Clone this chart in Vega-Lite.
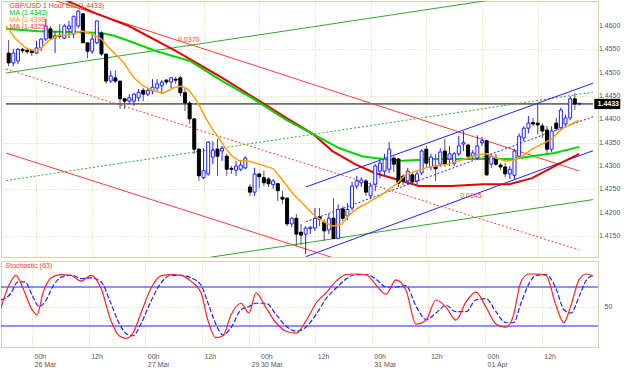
{
  "$schema": "https://vega.github.io/schema/vega-lite/v6.json",
  "padding": 0,
  "background": "white",
  "spacing": 2,
  "config": {
    "view": {"stroke": "#d8d0b0"},
    "font": "Liberation Sans",
    "axis": {"labelFont": "Liberation Sans", "labelFontSize": 7, "labelColor": "#555555", "ticks": false, "domain": false, "gridColor": "#d9cf9c", "gridDash": [1, 2], "title": null, "labelOverlap": false}
  },
  "datasets": {
    "candles": [
      {"k":-6,"o":1.4542,"h":1.4570,"l":1.4514,"c":1.4521},
      {"k":-5,"o":1.4521,"h":1.4551,"l":1.4514,"c":1.4542},
      {"k":-4,"o":1.4525,"h":1.4553,"l":1.4518,"c":1.4550},
      {"k":-3,"o":1.4550,"h":1.4553,"l":1.4542,"c":1.4547},
      {"k":-2,"o":1.4548,"h":1.4553,"l":1.4540,"c":1.4545},
      {"k":-1,"o":1.4547,"h":1.4551,"l":1.4536,"c":1.4543},
      {"k":0,"o":1.4542,"h":1.4568,"l":1.4540,"c":1.4553},
      {"k":1,"o":1.4553,"h":1.4574,"l":1.4546,"c":1.4572},
      {"k":2,"o":1.4572,"h":1.4615,"l":1.4568,"c":1.4600},
      {"k":3,"o":1.4594,"h":1.4600,"l":1.4572,"c":1.4574},
      {"k":4,"o":1.4575,"h":1.4589,"l":1.4542,"c":1.4579},
      {"k":5,"o":1.4580,"h":1.4604,"l":1.4572,"c":1.4578},
      {"k":6,"o":1.4574,"h":1.4604,"l":1.4572,"c":1.4600},
      {"k":7,"o":1.4594,"h":1.4611,"l":1.4574,"c":1.4600},
      {"k":8,"o":1.4583,"h":1.4621,"l":1.4574,"c":1.4621},
      {"k":9,"o":1.4600,"h":1.4634,"l":1.4596,"c":1.4632},
      {"k":10,"o":1.4626,"h":1.4628,"l":1.4564,"c":1.4564},
      {"k":11,"o":1.4564,"h":1.4564,"l":1.4531,"c":1.4546},
      {"k":12,"o":1.4546,"h":1.4583,"l":1.4540,"c":1.4572},
      {"k":13,"o":1.4564,"h":1.4611,"l":1.4561,"c":1.4611},
      {"k":14,"o":1.4585,"h":1.4589,"l":1.4536,"c":1.4540},
      {"k":15,"o":1.4540,"h":1.4540,"l":1.4476,"c":1.4482},
      {"k":16,"o":1.4482,"h":1.4504,"l":1.4478,"c":1.4493},
      {"k":17,"o":1.4489,"h":1.4504,"l":1.4478,"c":1.4482},
      {"k":18,"o":1.4482,"h":1.4482,"l":1.4422,"c":1.4444},
      {"k":19,"o":1.4444,"h":1.4446,"l":1.4422,"c":1.4439},
      {"k":20,"o":1.4439,"h":1.4454,"l":1.4433,"c":1.4446},
      {"k":21,"o":1.4439,"h":1.4457,"l":1.4429,"c":1.4454},
      {"k":22,"o":1.4446,"h":1.4465,"l":1.4439,"c":1.4458},
      {"k":23,"o":1.4462,"h":1.4467,"l":1.4439,"c":1.4454},
      {"k":24,"o":1.4454,"h":1.4467,"l":1.4450,"c":1.4462},
      {"k":25,"o":1.4461,"h":1.4486,"l":1.4454,"c":1.4469},
      {"k":26,"o":1.4467,"h":1.4486,"l":1.4461,"c":1.4476},
      {"k":27,"o":1.4472,"h":1.4484,"l":1.4454,"c":1.4480},
      {"k":28,"o":1.4484,"h":1.4486,"l":1.4474,"c":1.4480},
      {"k":29,"o":1.4480,"h":1.4491,"l":1.4467,"c":1.4489},
      {"k":30,"o":1.4486,"h":1.4491,"l":1.4476,"c":1.4484},
      {"k":31,"o":1.4489,"h":1.4493,"l":1.4450,"c":1.4457},
      {"k":32,"o":1.4457,"h":1.4467,"l":1.4418,"c":1.4435},
      {"k":33,"o":1.4435,"h":1.4439,"l":1.4390,"c":1.4401},
      {"k":34,"o":1.4401,"h":1.4403,"l":1.4326,"c":1.4336},
      {"k":35,"o":1.4336,"h":1.4338,"l":1.4268,"c":1.4279},
      {"k":36,"o":1.4275,"h":1.4338,"l":1.4272,"c":1.4290},
      {"k":37,"o":1.4283,"h":1.4353,"l":1.4279,"c":1.4351},
      {"k":38,"o":1.4319,"h":1.4353,"l":1.4304,"c":1.4334},
      {"k":39,"o":1.4336,"h":1.4358,"l":1.4279,"c":1.4321},
      {"k":40,"o":1.4332,"h":1.4343,"l":1.4311,"c":1.4338},
      {"k":41,"o":1.4321,"h":1.4326,"l":1.4279,"c":1.4293},
      {"k":42,"o":1.4295,"h":1.4300,"l":1.4283,"c":1.4293},
      {"k":43,"o":1.4291,"h":1.4311,"l":1.4279,"c":1.4300},
      {"k":44,"o":1.4293,"h":1.4311,"l":1.4289,"c":1.4302},
      {"k":45,"o":1.4296,"h":1.4321,"l":1.4293,"c":1.4317},
      {"k":46,"o":1.4255,"h":1.4261,"l":1.4236,"c":1.4244},
      {"k":47,"o":1.4244,"h":1.4296,"l":1.4236,"c":1.4283},
      {"k":48,"o":1.4283,"h":1.4285,"l":1.4253,"c":1.4277},
      {"k":49,"o":1.4275,"h":1.4290,"l":1.4257,"c":1.4264},
      {"k":50,"o":1.4272,"h":1.4276,"l":1.4255,"c":1.4262},
      {"k":51,"o":1.4260,"h":1.4272,"l":1.4251,"c":1.4268},
      {"k":52,"o":1.4262,"h":1.4264,"l":1.4225,"c":1.4247},
      {"k":53,"o":1.4233,"h":1.4247,"l":1.4219,"c":1.4229},
      {"k":54,"o":1.4231,"h":1.4233,"l":1.4171,"c":1.4176},
      {"k":55,"o":1.4176,"h":1.4190,"l":1.4169,"c":1.4188},
      {"k":56,"o":1.4188,"h":1.4197,"l":1.4128,"c":1.4154},
      {"k":57,"o":1.4158,"h":1.4176,"l":1.4131,"c":1.4152},
      {"k":58,"o":1.4154,"h":1.4171,"l":1.4111,"c":1.4167},
      {"k":59,"o":1.4166,"h":1.4171,"l":1.4154,"c":1.4169},
      {"k":60,"o":1.4167,"h":1.4210,"l":1.4161,"c":1.4188},
      {"k":61,"o":1.4191,"h":1.4210,"l":1.4171,"c":1.4186},
      {"k":62,"o":1.4180,"h":1.4186,"l":1.4139,"c":1.4161},
      {"k":63,"o":1.4163,"h":1.4197,"l":1.4154,"c":1.4188},
      {"k":64,"o":1.4188,"h":1.4231,"l":1.4143,"c":1.4145},
      {"k":65,"o":1.4145,"h":1.4218,"l":1.4143,"c":1.4207},
      {"k":66,"o":1.4208,"h":1.4214,"l":1.4182,"c":1.4188},
      {"k":67,"o":1.4193,"h":1.4220,"l":1.4184,"c":1.4207},
      {"k":68,"o":1.4210,"h":1.4266,"l":1.4203,"c":1.4257},
      {"k":69,"o":1.4257,"h":1.4279,"l":1.4251,"c":1.4268},
      {"k":70,"o":1.4264,"h":1.4276,"l":1.4255,"c":1.4270},
      {"k":71,"o":1.4268,"h":1.4272,"l":1.4236,"c":1.4244},
      {"k":72,"o":1.4236,"h":1.4264,"l":1.4229,"c":1.4257},
      {"k":73,"o":1.4261,"h":1.4304,"l":1.4246,"c":1.4300},
      {"k":74,"o":1.4289,"h":1.4315,"l":1.4274,"c":1.4306},
      {"k":75,"o":1.4289,"h":1.4326,"l":1.4281,"c":1.4315},
      {"k":76,"o":1.4293,"h":1.4351,"l":1.4285,"c":1.4336},
      {"k":77,"o":1.4317,"h":1.4321,"l":1.4287,"c":1.4304},
      {"k":78,"o":1.4315,"h":1.4317,"l":1.4255,"c":1.4263},
      {"k":79,"o":1.4278,"h":1.4283,"l":1.4259,"c":1.4268},
      {"k":80,"o":1.4268,"h":1.4296,"l":1.4261,"c":1.4289},
      {"k":81,"o":1.4281,"h":1.4285,"l":1.4259,"c":1.4266},
      {"k":82,"o":1.4268,"h":1.4289,"l":1.4261,"c":1.4283},
      {"k":83,"o":1.4285,"h":1.4336,"l":1.4281,"c":1.4332},
      {"k":84,"o":1.4336,"h":1.4343,"l":1.4296,"c":1.4306},
      {"k":85,"o":1.4298,"h":1.4326,"l":1.4291,"c":1.4319},
      {"k":86,"o":1.4300,"h":1.4326,"l":1.4268,"c":1.4294},
      {"k":87,"o":1.4304,"h":1.4338,"l":1.4298,"c":1.4330},
      {"k":88,"o":1.4332,"h":1.4358,"l":1.4298,"c":1.4304},
      {"k":89,"o":1.4315,"h":1.4343,"l":1.4300,"c":1.4326},
      {"k":90,"o":1.4306,"h":1.4330,"l":1.4300,"c":1.4326},
      {"k":91,"o":1.4326,"h":1.4364,"l":1.4321,"c":1.4343},
      {"k":92,"o":1.4347,"h":1.4375,"l":1.4332,"c":1.4350},
      {"k":93,"o":1.4345,"h":1.4347,"l":1.4313,"c":1.4321},
      {"k":94,"o":1.4321,"h":1.4334,"l":1.4315,"c":1.4328},
      {"k":95,"o":1.4317,"h":1.4366,"l":1.4313,"c":1.4343},
      {"k":96,"o":1.4350,"h":1.4362,"l":1.4343,"c":1.4354},
      {"k":97,"o":1.4354,"h":1.4356,"l":1.4279,"c":1.4281},
      {"k":98,"o":1.4304,"h":1.4326,"l":1.4296,"c":1.4321},
      {"k":99,"o":1.4317,"h":1.4326,"l":1.4300,"c":1.4304},
      {"k":100,"o":1.4302,"h":1.4306,"l":1.4291,"c":1.4298},
      {"k":101,"o":1.4298,"h":1.4306,"l":1.4276,"c":1.4283},
      {"k":102,"o":1.4283,"h":1.4300,"l":1.4272,"c":1.4293},
      {"k":103,"o":1.4280,"h":1.4336,"l":1.4272,"c":1.4332},
      {"k":104,"o":1.4321,"h":1.4370,"l":1.4316,"c":1.4364},
      {"k":105,"o":1.4360,"h":1.4385,"l":1.4353,"c":1.4381},
      {"k":106,"o":1.4381,"h":1.4407,"l":1.4370,"c":1.4392},
      {"k":107,"o":1.4393,"h":1.4403,"l":1.4386,"c":1.4390},
      {"k":108,"o":1.4392,"h":1.4433,"l":1.4368,"c":1.4388},
      {"k":109,"o":1.4386,"h":1.4392,"l":1.4360,"c":1.4375},
      {"k":110,"o":1.4377,"h":1.4386,"l":1.4326,"c":1.4336},
      {"k":111,"o":1.4336,"h":1.4385,"l":1.4330,"c":1.4375},
      {"k":112,"o":1.4392,"h":1.4403,"l":1.4375,"c":1.4380},
      {"k":113,"o":1.4382,"h":1.4425,"l":1.4375,"c":1.4420},
      {"k":114,"o":1.4390,"h":1.4410,"l":1.4386,"c":1.4403},
      {"k":115,"o":1.4403,"h":1.4450,"l":1.4398,"c":1.4444},
      {"k":116,"o":1.4444,"h":1.4456,"l":1.4420,"c":1.4433},
      {"k":117,"o":1.4433,"h":1.4436,"l":1.4430,"c":1.4434}
    ],
    "ma": [
      {"s":"fast","k":-6.57,"p":1.4600},{"s":"fast","k":-4.45,"p":1.4572},{"s":"fast","k":-2.33,"p":1.4553},{"s":"fast","k":-0.21,"p":1.4546},{"s":"fast","k":0.85,"p":1.4551},{"s":"fast","k":2.54,"p":1.4568},{"s":"fast","k":4.66,"p":1.4579},{"s":"fast","k":7.63,"p":1.4583},{"s":"fast","k":9.75,"p":1.4589},{"s":"fast","k":11.86,"p":1.4583},{"s":"fast","k":13.98,"p":1.4572},{"s":"fast","k":15.25,"p":1.4557},{"s":"fast","k":17.37,"p":1.4536},{"s":"fast","k":18.86,"p":1.4521},{"s":"fast","k":20.97,"p":1.4489},{"s":"fast","k":23.09,"p":1.4471},{"s":"fast","k":25.21,"p":1.4461},{"s":"fast","k":27.33,"p":1.4456},{"s":"fast","k":29.45,"p":1.4467},{"s":"fast","k":31.14,"p":1.4471},{"s":"fast","k":32.63,"p":1.4465},{"s":"fast","k":34.11,"p":1.4446},{"s":"fast","k":35.17,"p":1.4429},{"s":"fast","k":36.44,"p":1.4403},{"s":"fast","k":37.92,"p":1.4379},{"s":"fast","k":39.41,"p":1.4358},{"s":"fast","k":40.68,"p":1.4339},{"s":"fast","k":42.16,"p":1.4321},{"s":"fast","k":43.64,"p":1.4311},{"s":"fast","k":45.34,"p":1.4311},{"s":"fast","k":48.09,"p":1.4304},{"s":"fast","k":51.06,"p":1.4294},{"s":"fast","k":53.18,"p":1.4268},{"s":"fast","k":55.30,"p":1.4240},{"s":"fast","k":57.42,"p":1.4219},{"s":"fast","k":59.53,"p":1.4197},{"s":"fast","k":61.65,"p":1.4182},{"s":"fast","k":63.77,"p":1.4171},{"s":"fast","k":65.89,"p":1.4176},{"s":"fast","k":67.16,"p":1.4193},{"s":"fast","k":69.28,"p":1.4210},{"s":"fast","k":71.40,"p":1.4221},{"s":"fast","k":74.58,"p":1.4240},{"s":"fast","k":77.54,"p":1.4261},{"s":"fast","k":79.66,"p":1.4283},{"s":"fast","k":81.78,"p":1.4289},{"s":"fast","k":83.90,"p":1.4296},{"s":"fast","k":86.02,"p":1.4300},{"s":"fast","k":88.77,"p":1.4304},{"s":"fast","k":90.89,"p":1.4311},{"s":"fast","k":93.01,"p":1.4317},{"s":"fast","k":95.13,"p":1.4324},{"s":"fast","k":97.25,"p":1.4326},{"s":"fast","k":98.94,"p":1.4317},{"s":"fast","k":101.06,"p":1.4311},{"s":"fast","k":102.97,"p":1.4313},{"s":"fast","k":104.66,"p":1.4321},{"s":"fast","k":106.78,"p":1.4336},{"s":"fast","k":108.90,"p":1.4347},{"s":"fast","k":111.02,"p":1.4358},{"s":"fast","k":113.14,"p":1.4379},{"s":"fast","k":115.25,"p":1.4390},{"s":"fast","k":116.95,"p":1.4398},
      {"s":"mid","k":-6.57,"p":1.4594},{"s":"mid","k":0.42,"p":1.4589},{"s":"mid","k":7.63,"p":1.4587},{"s":"mid","k":13.98,"p":1.4585},{"s":"mid","k":16.74,"p":1.4579},{"s":"mid","k":19.92,"p":1.4568},{"s":"mid","k":25.85,"p":1.4546},{"s":"mid","k":33.05,"p":1.4525},{"s":"mid","k":40.04,"p":1.4482},{"s":"mid","k":46.40,"p":1.4446},{"s":"mid","k":53.81,"p":1.4399},{"s":"mid","k":59.53,"p":1.4369},{"s":"mid","k":65.04,"p":1.4339},{"s":"mid","k":70.13,"p":1.4321},{"s":"mid","k":72.88,"p":1.4317},{"s":"mid","k":78.81,"p":1.4311},{"s":"mid","k":86.02,"p":1.4315},{"s":"mid","k":93.01,"p":1.4315},{"s":"mid","k":97.25,"p":1.4315},{"s":"mid","k":102.54,"p":1.4315},{"s":"mid","k":106.78,"p":1.4321},{"s":"mid","k":111.65,"p":1.4328},{"s":"mid","k":116.95,"p":1.4341},
      {"s":"slow","k":5.08,"p":1.4660},{"s":"slow","k":6.57,"p":1.4654},{"s":"slow","k":12.50,"p":1.4628},{"s":"slow","k":19.92,"p":1.4600},{"s":"slow","k":30.08,"p":1.4546},{"s":"slow","k":40.04,"p":1.4489},{"s":"slow","k":48.09,"p":1.4439},{"s":"slow","k":53.81,"p":1.4403},{"s":"slow","k":59.53,"p":1.4369},{"s":"slow","k":63.77,"p":1.4332},{"s":"slow","k":68.64,"p":1.4304},{"s":"slow","k":72.88,"p":1.4285},{"s":"slow","k":78.81,"p":1.4268},{"s":"slow","k":82.42,"p":1.4257},{"s":"slow","k":89.41,"p":1.4257},{"s":"slow","k":96.19,"p":1.4261},{"s":"slow","k":101.91,"p":1.4261},{"s":"slow","k":106.78,"p":1.4274},{"s":"slow","k":112.50,"p":1.4304},{"s":"slow","k":116.95,"p":1.4326}
    ],
    "trend": [
      {"g":"R","id":"R1","k":-6.57,"p":1.46887},{"g":"R","id":"R1","k":116.95,"p":1.42893},
      {"g":"R","id":"R3","k":-6.57,"p":1.43278},{"g":"R","id":"R3","k":64.4,"p":1.41018},
      {"g":"G","id":"G1","k":-6.57,"p":1.44993},{"g":"G","id":"G1","k":103.6,"p":1.46643},
      {"g":"G","id":"G3","k":37.5,"p":1.41045},{"g":"G","id":"G3","k":119.92,"p":1.42280},
      {"g":"B","id":"B1","k":58.05,"p":1.42550},{"g":"B","id":"B1","k":119.92,"p":1.44774},
      {"g":"B","id":"B3","k":58.05,"p":1.41058},{"g":"B","id":"B3","k":119.92,"p":1.43328}
    ],
    "trendDot": [
      {"g":"R","id":"R2","k":-6.57,"p":1.45078},{"g":"R","id":"R2","k":116.95,"p":1.41200},
      {"g":"G","id":"G2","k":-6.57,"p":1.42689},{"g":"G","id":"G2","k":119.92,"p":1.44583},
      {"g":"B","id":"B2","k":58.05,"p":1.41804},{"g":"B","id":"B2","k":119.92,"p":1.44056}
    ],
    "stoch": [
      {"s":"K","k":-6.57,"v":48},{"s":"K","k":-4.87,"v":83},{"s":"K","k":-3.39,"v":98},{"s":"K","k":-1.91,"v":78},{"s":"K","k":-0.21,"v":48},{"s":"K","k":1.06,"v":37},{"s":"K","k":2.33,"v":71},{"s":"K","k":4.03,"v":94},{"s":"K","k":6.14,"v":99},{"s":"K","k":8.26,"v":98},{"s":"K","k":10.38,"v":89},{"s":"K","k":12.5,"v":98},{"s":"K","k":14.62,"v":78},{"s":"K","k":16.74,"v":28},{"s":"K","k":18.43,"v":5},{"s":"K","k":19.92,"v":1},{"s":"K","k":21.4,"v":9},{"s":"K","k":23.09,"v":40},{"s":"K","k":25.21,"v":78},{"s":"K","k":27.33,"v":97},{"s":"K","k":29.45,"v":99},{"s":"K","k":31.57,"v":98},{"s":"K","k":33.69,"v":89},{"s":"K","k":35.81,"v":71},{"s":"K","k":37.29,"v":28},{"s":"K","k":38.98,"v":2},{"s":"K","k":40.47,"v":5},{"s":"K","k":42.16,"v":37},{"s":"K","k":44.28,"v":55},{"s":"K","k":45.97,"v":40},{"s":"K","k":47.46,"v":71},{"s":"K","k":49.58,"v":48},{"s":"K","k":51.69,"v":25},{"s":"K","k":53.81,"v":12},{"s":"K","k":55.93,"v":9},{"s":"K","k":58.05,"v":28},{"s":"K","k":60.17,"v":55},{"s":"K","k":62.29,"v":71},{"s":"K","k":64.41,"v":89},{"s":"K","k":66.53,"v":99},{"s":"K","k":68.64,"v":100},{"s":"K","k":70.76,"v":99},{"s":"K","k":72.88,"v":83},{"s":"K","k":75.0,"v":69},{"s":"K","k":77.12,"v":91},{"s":"K","k":79.24,"v":75},{"s":"K","k":81.36,"v":23},{"s":"K","k":83.47,"v":29},{"s":"K","k":85.59,"v":60},{"s":"K","k":87.71,"v":49},{"s":"K","k":89.83,"v":29},{"s":"K","k":91.95,"v":57},{"s":"K","k":94.07,"v":72},{"s":"K","k":96.19,"v":49},{"s":"K","k":98.31,"v":23},{"s":"K","k":100.42,"v":18},{"s":"K","k":101.91,"v":34},{"s":"K","k":103.6,"v":88},{"s":"K","k":105.3,"v":100},{"s":"K","k":106.8,"v":100},{"s":"K","k":108.9,"v":98},{"s":"K","k":111.0,"v":52},{"s":"K","k":112.7,"v":25},{"s":"K","k":114.2,"v":52},{"s":"K","k":115.9,"v":91},{"s":"K","k":117.4,"v":100},{"s":"K","k":118.9,"v":97},
      {"s":"D","k":-6.57,"v":60},{"s":"D","k":-4.5,"v":70},{"s":"D","k":-3,"v":88},{"s":"D","k":-1.5,"v":88},{"s":"D","k":0,"v":68},{"s":"D","k":1.5,"v":50},{"s":"D","k":3,"v":60},{"s":"D","k":4.5,"v":82},{"s":"D","k":6.5,"v":96},{"s":"D","k":8.5,"v":98},{"s":"D","k":10.5,"v":93},{"s":"D","k":12.5,"v":94},{"s":"D","k":14.6,"v":88},{"s":"D","k":16.7,"v":55},{"s":"D","k":18.4,"v":25},{"s":"D","k":20,"v":8},{"s":"D","k":21.4,"v":5},{"s":"D","k":23,"v":22},{"s":"D","k":25,"v":55},{"s":"D","k":27,"v":83},{"s":"D","k":29.5,"v":98},{"s":"D","k":31.6,"v":98},{"s":"D","k":33.7,"v":94},{"s":"D","k":35.8,"v":83},{"s":"D","k":37.3,"v":55},{"s":"D","k":39,"v":22},{"s":"D","k":40.5,"v":6},{"s":"D","k":42.2,"v":18},{"s":"D","k":44.3,"v":45},{"s":"D","k":46,"v":50},{"s":"D","k":47.5,"v":55},{"s":"D","k":49.6,"v":55},{"s":"D","k":51.7,"v":38},{"s":"D","k":53.8,"v":20},{"s":"D","k":55.9,"v":12},{"s":"D","k":58,"v":18},{"s":"D","k":60.2,"v":38},{"s":"D","k":62.3,"v":62},{"s":"D","k":64.4,"v":78},{"s":"D","k":66.5,"v":92},{"s":"D","k":68.6,"v":99},{"s":"D","k":70.8,"v":99},{"s":"D","k":72.9,"v":92},{"s":"D","k":75,"v":80},{"s":"D","k":77.1,"v":80},{"s":"D","k":79.2,"v":82},{"s":"D","k":81.4,"v":50},{"s":"D","k":83.5,"v":30},{"s":"D","k":85.6,"v":40},{"s":"D","k":87.7,"v":52},{"s":"D","k":89.8,"v":42},{"s":"D","k":92,"v":42},{"s":"D","k":94,"v":60},{"s":"D","k":96.2,"v":62},{"s":"D","k":98.3,"v":42},{"s":"D","k":100.4,"v":25},{"s":"D","k":102,"v":25},{"s":"D","k":103.6,"v":55},{"s":"D","k":105.3,"v":85},{"s":"D","k":106.8,"v":98},{"s":"D","k":108.9,"v":99},{"s":"D","k":111,"v":78},{"s":"D","k":112.7,"v":45},{"s":"D","k":114.2,"v":40},{"s":"D","k":115.9,"v":65},{"s":"D","k":117.4,"v":90},{"s":"D","k":118.9,"v":98}
    ],
    "hdr": [
      {"g":"title","t":"GBP/USD 1 Hour Bid (1.4433)","k":-5.8,"p":1.4643},
      {"g":"ma1","t":"MA (1.4342)","k":-5.8,"p":1.4628},
      {"g":"ma2","t":"MA (1.4398)","k":-5.8,"p":1.4613},
      {"g":"ma3","t":"MA (1.4325)","k":-5.8,"p":1.4598}
    ],
    "notes": [
      {"t":"0.0370","k":30.5,"p":1.4570},
      {"t":"0.0145","k":91.3,"p":1.4236}
    ],
    "ylab": [
      {"p":1.415,"t":"1.4150"},{"p":1.42,"t":"1.4200"},{"p":1.425,"t":"1.4250"},{"p":1.43,"t":"1.4300"},{"p":1.435,"t":"1.4350"},
      {"p":1.44,"t":"1.4400"},{"p":1.445,"t":"1.4450"},{"p":1.45,"t":"1.4500"},{"p":1.455,"t":"1.4550"},{"p":1.46,"t":"1.4600"}
    ],
    "price": [{"k":-6.57,"k2":119.92,"p":1.4433}],
    "lvl": [{"k":-6.57,"k2":119.92,"v":80},{"k":-6.57,"k2":119.92,"v":20}]
  },
  "vconcat": [
    {
      "width": 597,
      "height": 256,
      "layer": [
        {"data": {"name": "price"},
         "mark": {"type": "rule", "color": "#000000", "strokeWidth": 1},
         "encoding": {
           "x": {"field": "k", "type": "quantitative", "scale": {"domain": [-6.57, 119.92], "nice": false, "zero": false},
                 "axis": {"labels": false, "grid": true, "values": [0, 12, 24, 36, 48, 60, 72, 84, 96, 108]}},
           "x2": {"field": "k2"},
           "y": {"field": "p", "type": "quantitative",
            "scale": {"domain": [1.4105, 1.46536], "nice": false, "zero": false},
            "axis": {"orient": "right", "grid": true, "labels": false, "values": [1.415, 1.42, 1.425, 1.43, 1.435, 1.44, 1.445, 1.45, 1.455, 1.46]}}}},
        {"data": {"name": "trend"}, "transform": [{"filter": "datum.g == 'R'"}],
         "mark": {"type": "line", "color": "#ff3b3b", "strokeWidth": 1, "clip": true},
         "encoding": {"x": {"field": "k", "type": "quantitative"}, "y": {"field": "p", "type": "quantitative"}, "detail": {"field": "id"}}},
        {"data": {"name": "trendDot"}, "transform": [{"filter": "datum.g == 'R'"}],
         "mark": {"type": "line", "color": "#ff3b3b", "strokeWidth": 1, "strokeDash": [2, 2], "clip": true},
         "encoding": {"x": {"field": "k", "type": "quantitative"}, "y": {"field": "p", "type": "quantitative"}, "detail": {"field": "id"}}},
        {"data": {"name": "trend"}, "transform": [{"filter": "datum.g == 'G'"}],
         "mark": {"type": "line", "color": "#2eaa2e", "strokeWidth": 1, "clip": true},
         "encoding": {"x": {"field": "k", "type": "quantitative"}, "y": {"field": "p", "type": "quantitative"}, "detail": {"field": "id"}}},
        {"data": {"name": "trendDot"}, "transform": [{"filter": "datum.g == 'G'"}],
         "mark": {"type": "line", "color": "#2eaa2e", "strokeWidth": 1, "strokeDash": [2, 2], "clip": true},
         "encoding": {"x": {"field": "k", "type": "quantitative"}, "y": {"field": "p", "type": "quantitative"}, "detail": {"field": "id"}}},
        {"data": {"name": "trend"}, "transform": [{"filter": "datum.g == 'B'"}],
         "mark": {"type": "line", "color": "#2020ff", "strokeWidth": 1, "clip": true},
         "encoding": {"x": {"field": "k", "type": "quantitative"}, "y": {"field": "p", "type": "quantitative"}, "detail": {"field": "id"}}},
        {"data": {"name": "trendDot"}, "transform": [{"filter": "datum.g == 'B'"}],
         "mark": {"type": "line", "color": "#2020ff", "strokeWidth": 1, "strokeDash": [2, 2], "clip": true},
         "encoding": {"x": {"field": "k", "type": "quantitative"}, "y": {"field": "p", "type": "quantitative"}, "detail": {"field": "id"}}},
        {"data": {"name": "ma"}, "transform": [{"filter": "datum.s == 'slow'"}],
         "mark": {"type": "line", "color": "#e80000", "strokeWidth": 2, "clip": true},
         "encoding": {"x": {"field": "k", "type": "quantitative"}, "y": {"field": "p", "type": "quantitative"}}},
        {"data": {"name": "ma"}, "transform": [{"filter": "datum.s == 'mid'"}],
         "mark": {"type": "line", "color": "#00d800", "strokeWidth": 2, "clip": true},
         "encoding": {"x": {"field": "k", "type": "quantitative"}, "y": {"field": "p", "type": "quantitative"}}},
        {"data": {"name": "candles"},
         "mark": {"type": "rule", "strokeWidth": 1},
         "encoding": {"x": {"field": "k", "type": "quantitative"}, "y": {"field": "l", "type": "quantitative"}, "y2": {"field": "h"},
           "color": {"condition": {"test": "datum.c >= datum.o", "value": "#2020ff"}, "value": "#555555"}}},
        {"data": {"name": "candles"},
         "mark": {"type": "bar", "width": 3, "strokeWidth": 1},
         "encoding": {"x": {"field": "k", "type": "quantitative"}, "y": {"field": "o", "type": "quantitative"}, "y2": {"field": "c"},
           "fill": {"condition": {"test": "datum.c >= datum.o", "value": "#ffffff"}, "value": "#000000"},
           "stroke": {"condition": {"test": "datum.c >= datum.o", "value": "#2020ff"}, "value": "#000000"}}},
        {"data": {"name": "ma"}, "transform": [{"filter": "datum.s == 'fast'"}],
         "mark": {"type": "line", "color": "#ffa000", "strokeWidth": 1.5, "clip": true},
         "encoding": {"x": {"field": "k", "type": "quantitative"}, "y": {"field": "p", "type": "quantitative"}}},
        {"data": {"name": "notes"},
         "mark": {"type": "text", "color": "#ff3b3b", "fontSize": 7, "align": "left", "baseline": "middle"},
         "encoding": {"x": {"field": "k", "type": "quantitative"}, "y": {"field": "p", "type": "quantitative"}, "text": {"field": "t"}}},
        {"data": {"name": "hdr"},
         "mark": {"type": "text", "fontSize": 7, "align": "left", "baseline": "middle"},
         "encoding": {"x": {"field": "k", "type": "quantitative"}, "y": {"field": "p", "type": "quantitative"}, "text": {"field": "t"},
           "color": {"field": "g", "type": "nominal", "legend": null,
             "scale": {"domain": ["title", "ma1", "ma2", "ma3"], "range": ["#e04040", "#00c000", "#ff9900", "#ff4040"]}}}},
        {"data": {"name": "ylab"},
         "mark": {"type": "text", "color": "#555555", "fontSize": 7, "align": "left", "baseline": "middle"},
         "encoding": {"x": {"datum": 121.2, "type": "quantitative"}, "y": {"field": "p", "type": "quantitative"}, "text": {"field": "t"}}},
        {"data": {"values": [{"k": 120.2, "k2": 125.8, "a": 1.4422, "b": 1.4444}]},
         "mark": {"type": "rect", "color": "#000000"},
         "encoding": {"x": {"field": "k", "type": "quantitative"}, "x2": {"field": "k2"}, "y": {"field": "a", "type": "quantitative"}, "y2": {"field": "b"}}},
        {"data": {"values": [{"k": 120.9, "p": 1.4433, "t": "1.4433"}]},
         "mark": {"type": "text", "color": "#ffffff", "fontSize": 7, "fontWeight": "bold", "align": "left", "baseline": "middle"},
         "encoding": {"x": {"field": "k", "type": "quantitative"}, "y": {"field": "p", "type": "quantitative"}, "text": {"field": "t"}}}
      ]
    },
    {
      "width": 597,
      "height": 86,
      "layer": [
        {"data": {"name": "lvl"},
         "mark": {"type": "rule", "color": "#2020ff", "strokeWidth": 1},
         "encoding": {
           "x": {"field": "k", "type": "quantitative", "scale": {"domain": [-6.57, 119.92], "nice": false, "zero": false},
              "axis": {"grid": true, "values": [0, 12, 24, 36, 46, 48, 60, 72, 84, 96, 108], "labelAlign": "left", "labelBaseline": "top", "labelOffset": 2, "labelPadding": 5, "labelLineHeight": 8,
                "labelExpr": "datum.value == 0 ? ['00h','26 Mar'] : datum.value == 24 ? ['00h','27 Mar'] : datum.value == 46 ? ['','29'] : datum.value == 48 ? ['00h','30 Mar'] : datum.value == 72 ? ['00h','31 Mar'] : datum.value == 96 ? ['00h','01 Apr'] : ['12h','']"}},
           "x2": {"field": "k2"},
           "y": {"field": "v", "type": "quantitative",
            "scale": {"domain": [-12.3, 120], "nice": false, "zero": false},
            "axis": {"orient": "right", "grid": true, "values": [50], "labelPadding": 6}}}},
        {"data": {"name": "stoch"}, "transform": [{"filter": "datum.s == 'D'"}],
         "mark": {"type": "line", "color": "#2020ff", "strokeWidth": 1.2, "strokeDash": [5, 2], "interpolate": "monotone", "clip": true},
         "encoding": {"x": {"field": "k", "type": "quantitative"}, "y": {"field": "v", "type": "quantitative"}}},
        {"data": {"name": "stoch"}, "transform": [{"filter": "datum.s == 'K'"}],
         "mark": {"type": "line", "color": "#ff2020", "strokeWidth": 1.2, "interpolate": "monotone", "clip": true},
         "encoding": {"x": {"field": "k", "type": "quantitative"}, "y": {"field": "v", "type": "quantitative"}}},
        {"data": {"values": [{"t": "Stochastic (63)", "k": -5.6, "v": 113}]},
         "mark": {"type": "text", "color": "#ff4040", "fontSize": 7, "align": "left", "baseline": "middle"},
         "encoding": {"x": {"field": "k", "type": "quantitative"}, "y": {"field": "v", "type": "quantitative"}, "text": {"field": "t"}}}
      ]
    }
  ]
}
